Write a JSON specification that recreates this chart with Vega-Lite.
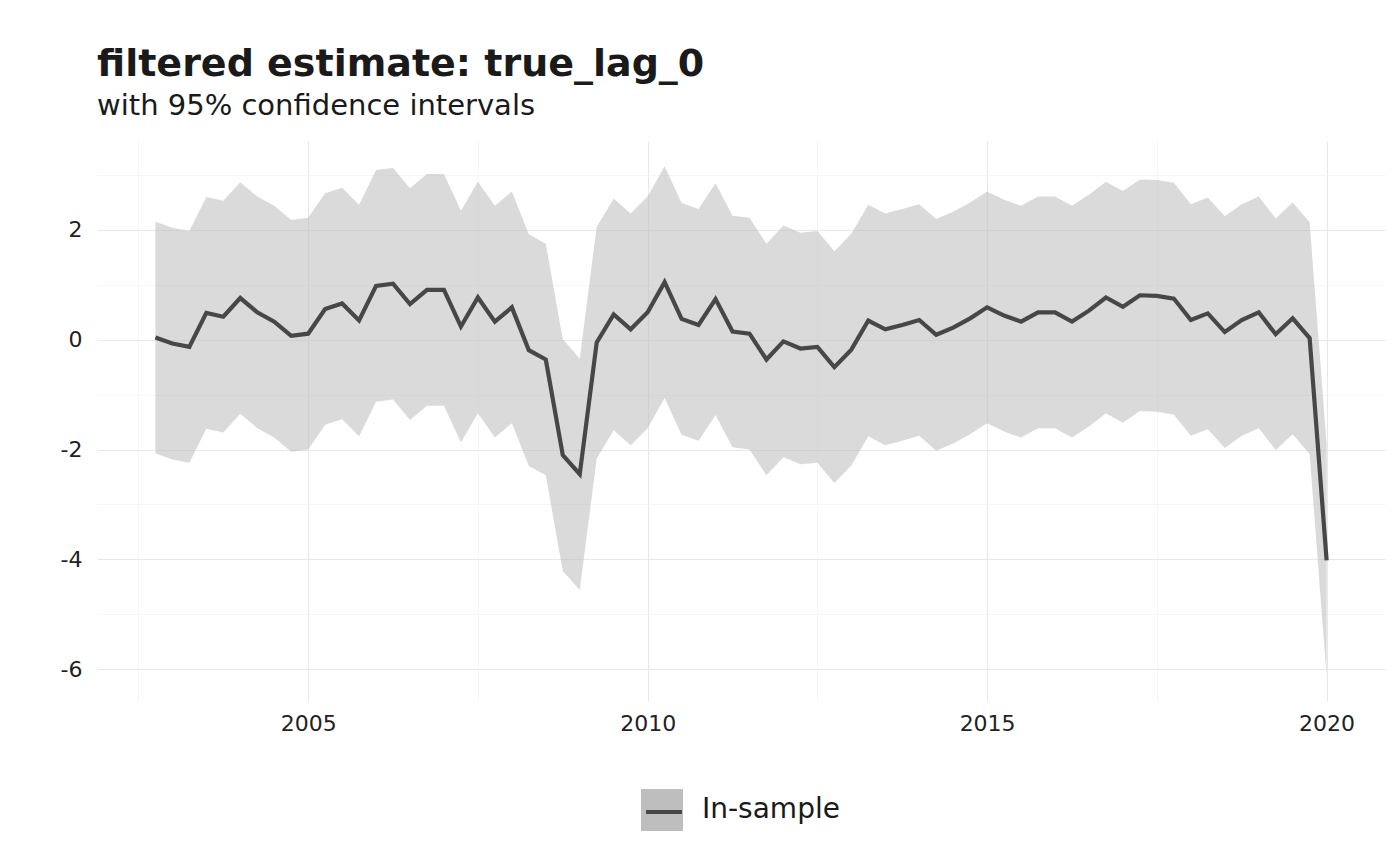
{
  "$schema": "https://vega.github.io/schema/vega-lite/v6.json",
  "width": 1288,
  "height": 560,
  "autosize": {"type": "none"},
  "padding": {"left": 97, "top": 141, "right": 15, "bottom": 164},
  "background": "white",
  "title": {
    "text": "filtered estimate: true_lag_0",
    "subtitle": "with 95% confidence intervals",
    "anchor": "start",
    "frame": "group",
    "font": "DejaVu Sans",
    "fontSize": 38,
    "fontWeight": "bold",
    "color": "#1a1a1a",
    "subtitleFont": "DejaVu Sans",
    "subtitleFontSize": 29,
    "subtitleColor": "#1a1a1a",
    "subtitlePadding": 8,
    "offset": 20
  },
  "config": {
    "view": {"stroke": null},
    "axis": {
      "domain": false,
      "ticks": false,
      "labelFont": "DejaVu Sans",
      "labelFontSize": 22,
      "labelColor": "#222222"
    }
  },
  "data": {
    "values": [
      {"t": 2002.75, "m": 0.04, "lo": -2.07, "hi": 2.15, "series": "In-sample"},
      {"t": 2003.0, "m": -0.07, "lo": -2.18, "hi": 2.04, "series": "In-sample"},
      {"t": 2003.25, "m": -0.13, "lo": -2.24, "hi": 1.98, "series": "In-sample"},
      {"t": 2003.5, "m": 0.49, "lo": -1.62, "hi": 2.60, "series": "In-sample"},
      {"t": 2003.75, "m": 0.42, "lo": -1.69, "hi": 2.53, "series": "In-sample"},
      {"t": 2004.0, "m": 0.76, "lo": -1.35, "hi": 2.87, "series": "In-sample"},
      {"t": 2004.25, "m": 0.50, "lo": -1.61, "hi": 2.61, "series": "In-sample"},
      {"t": 2004.5, "m": 0.33, "lo": -1.78, "hi": 2.44, "series": "In-sample"},
      {"t": 2004.75, "m": 0.07, "lo": -2.04, "hi": 2.18, "series": "In-sample"},
      {"t": 2005.0, "m": 0.11, "lo": -2.00, "hi": 2.22, "series": "In-sample"},
      {"t": 2005.25, "m": 0.56, "lo": -1.55, "hi": 2.67, "series": "In-sample"},
      {"t": 2005.5, "m": 0.66, "lo": -1.45, "hi": 2.77, "series": "In-sample"},
      {"t": 2005.75, "m": 0.35, "lo": -1.76, "hi": 2.46, "series": "In-sample"},
      {"t": 2006.0, "m": 0.98, "lo": -1.13, "hi": 3.09, "series": "In-sample"},
      {"t": 2006.25, "m": 1.02, "lo": -1.09, "hi": 3.13, "series": "In-sample"},
      {"t": 2006.5, "m": 0.65, "lo": -1.46, "hi": 2.76, "series": "In-sample"},
      {"t": 2006.75, "m": 0.91, "lo": -1.20, "hi": 3.02, "series": "In-sample"},
      {"t": 2007.0, "m": 0.91, "lo": -1.20, "hi": 3.02, "series": "In-sample"},
      {"t": 2007.25, "m": 0.24, "lo": -1.87, "hi": 2.35, "series": "In-sample"},
      {"t": 2007.5, "m": 0.77, "lo": -1.34, "hi": 2.88, "series": "In-sample"},
      {"t": 2007.75, "m": 0.33, "lo": -1.78, "hi": 2.44, "series": "In-sample"},
      {"t": 2008.0, "m": 0.59, "lo": -1.52, "hi": 2.70, "series": "In-sample"},
      {"t": 2008.25, "m": -0.19, "lo": -2.30, "hi": 1.92, "series": "In-sample"},
      {"t": 2008.5, "m": -0.36, "lo": -2.47, "hi": 1.75, "series": "In-sample"},
      {"t": 2008.75, "m": -2.10, "lo": -4.21, "hi": 0.01, "series": "In-sample"},
      {"t": 2009.0, "m": -2.45, "lo": -4.56, "hi": -0.34, "series": "In-sample"},
      {"t": 2009.25, "m": -0.05, "lo": -2.16, "hi": 2.06, "series": "In-sample"},
      {"t": 2009.5, "m": 0.46, "lo": -1.65, "hi": 2.57, "series": "In-sample"},
      {"t": 2009.75, "m": 0.19, "lo": -1.92, "hi": 2.30, "series": "In-sample"},
      {"t": 2010.0, "m": 0.50, "lo": -1.61, "hi": 2.61, "series": "In-sample"},
      {"t": 2010.25, "m": 1.05, "lo": -1.06, "hi": 3.16, "series": "In-sample"},
      {"t": 2010.5, "m": 0.38, "lo": -1.73, "hi": 2.49, "series": "In-sample"},
      {"t": 2010.75, "m": 0.27, "lo": -1.84, "hi": 2.38, "series": "In-sample"},
      {"t": 2011.0, "m": 0.74, "lo": -1.37, "hi": 2.85, "series": "In-sample"},
      {"t": 2011.25, "m": 0.15, "lo": -1.96, "hi": 2.26, "series": "In-sample"},
      {"t": 2011.5, "m": 0.11, "lo": -2.00, "hi": 2.22, "series": "In-sample"},
      {"t": 2011.75, "m": -0.36, "lo": -2.47, "hi": 1.75, "series": "In-sample"},
      {"t": 2012.0, "m": -0.03, "lo": -2.14, "hi": 2.08, "series": "In-sample"},
      {"t": 2012.25, "m": -0.16, "lo": -2.27, "hi": 1.95, "series": "In-sample"},
      {"t": 2012.5, "m": -0.13, "lo": -2.24, "hi": 1.98, "series": "In-sample"},
      {"t": 2012.75, "m": -0.50, "lo": -2.61, "hi": 1.61, "series": "In-sample"},
      {"t": 2013.0, "m": -0.18, "lo": -2.29, "hi": 1.93, "series": "In-sample"},
      {"t": 2013.25, "m": 0.35, "lo": -1.76, "hi": 2.46, "series": "In-sample"},
      {"t": 2013.5, "m": 0.19, "lo": -1.92, "hi": 2.30, "series": "In-sample"},
      {"t": 2013.75, "m": 0.27, "lo": -1.84, "hi": 2.38, "series": "In-sample"},
      {"t": 2014.0, "m": 0.36, "lo": -1.75, "hi": 2.47, "series": "In-sample"},
      {"t": 2014.25, "m": 0.09, "lo": -2.02, "hi": 2.20, "series": "In-sample"},
      {"t": 2014.5, "m": 0.22, "lo": -1.89, "hi": 2.33, "series": "In-sample"},
      {"t": 2014.75, "m": 0.39, "lo": -1.72, "hi": 2.50, "series": "In-sample"},
      {"t": 2015.0, "m": 0.59, "lo": -1.52, "hi": 2.70, "series": "In-sample"},
      {"t": 2015.25, "m": 0.44, "lo": -1.67, "hi": 2.55, "series": "In-sample"},
      {"t": 2015.5, "m": 0.33, "lo": -1.78, "hi": 2.44, "series": "In-sample"},
      {"t": 2015.75, "m": 0.50, "lo": -1.61, "hi": 2.61, "series": "In-sample"},
      {"t": 2016.0, "m": 0.50, "lo": -1.61, "hi": 2.61, "series": "In-sample"},
      {"t": 2016.25, "m": 0.33, "lo": -1.78, "hi": 2.44, "series": "In-sample"},
      {"t": 2016.5, "m": 0.53, "lo": -1.58, "hi": 2.64, "series": "In-sample"},
      {"t": 2016.75, "m": 0.77, "lo": -1.34, "hi": 2.88, "series": "In-sample"},
      {"t": 2017.0, "m": 0.60, "lo": -1.51, "hi": 2.71, "series": "In-sample"},
      {"t": 2017.25, "m": 0.81, "lo": -1.30, "hi": 2.92, "series": "In-sample"},
      {"t": 2017.5, "m": 0.80, "lo": -1.31, "hi": 2.91, "series": "In-sample"},
      {"t": 2017.75, "m": 0.75, "lo": -1.36, "hi": 2.86, "series": "In-sample"},
      {"t": 2018.0, "m": 0.36, "lo": -1.75, "hi": 2.47, "series": "In-sample"},
      {"t": 2018.25, "m": 0.48, "lo": -1.63, "hi": 2.59, "series": "In-sample"},
      {"t": 2018.5, "m": 0.14, "lo": -1.97, "hi": 2.25, "series": "In-sample"},
      {"t": 2018.75, "m": 0.36, "lo": -1.75, "hi": 2.47, "series": "In-sample"},
      {"t": 2019.0, "m": 0.50, "lo": -1.61, "hi": 2.61, "series": "In-sample"},
      {"t": 2019.25, "m": 0.10, "lo": -2.01, "hi": 2.21, "series": "In-sample"},
      {"t": 2019.5, "m": 0.39, "lo": -1.72, "hi": 2.50, "series": "In-sample"},
      {"t": 2019.75, "m": 0.03, "lo": -2.08, "hi": 2.14, "series": "In-sample"},
      {"t": 2020.0, "m": -4.02, "lo": -6.13, "hi": -1.91, "series": "In-sample"}
    ]
  },
  "encoding": {
    "x": {
      "field": "t",
      "type": "quantitative",
      "title": null,
      "scale": {"domain": [2001.89, 2020.86], "zero": false, "nice": false},
      "axis": {
        "values": [2002.5, 2005, 2007.5, 2010, 2012.5, 2015, 2017.5, 2020],
        "labelExpr": "datum.value % 5 == 0 ? toString(datum.value) : ''",
        "labelPadding": 12,
        "gridColor": {"condition": {"test": "datum.value % 5 != 0", "value": "#f2f2f2"}, "value": "#e8e8e8"},
        "gridWidth": {"condition": {"test": "datum.value % 5 != 0", "value": 0.7}, "value": 1.1}
      }
    }
  },
  "layer": [
    {
      "mark": {"type": "area", "opacity": 0.57},
      "encoding": {
        "y": {
          "field": "lo",
          "type": "quantitative",
          "title": null,
          "scale": {"domain": [-6.58, 3.62], "zero": false, "nice": false},
          "axis": {
            "values": [-6, -5, -4, -3, -2, -1, 0, 1, 2, 3],
            "labelExpr": "datum.value % 2 == 0 ? toString(datum.value) : ''",
            "labelPadding": 15,
            "gridColor": {"condition": {"test": "datum.value % 2 != 0", "value": "#f2f2f2"}, "value": "#e8e8e8"},
            "gridWidth": {"condition": {"test": "datum.value % 2 != 0", "value": 0.7}, "value": 1.1}
          }
        },
        "y2": {"field": "hi"},
        "fill": {
          "datum": "In-sample",
          "scale": {"range": ["#bebebe"]},
          "legend": {
            "orient": "none",
            "legendX": 544,
            "legendY": 648,
            "title": null,
            "padding": 0,
            "symbolType": "square",
            "symbolSize": 1764,
            "symbolOpacity": 1,
            "symbolStrokeWidth": 0,
            "symbolStrokeColor": "transparent",
            "labelFont": "DejaVu Sans",
            "labelFontSize": 28,
            "labelColor": "#1a1a1a",
            "labelOffset": 19,
            "zindex": 1
          }
        }
      }
    },
    {
      "mark": {"type": "line", "strokeWidth": 4.2},
      "encoding": {
        "y": {
          "field": "m",
          "type": "quantitative",
          "title": null,
          "scale": {"domain": [-6.58, 3.62], "zero": false, "nice": false},
          "axis": {
            "values": [-6, -5, -4, -3, -2, -1, 0, 1, 2, 3],
            "labelExpr": "datum.value % 2 == 0 ? toString(datum.value) : ''",
            "labelPadding": 15,
            "gridColor": {"condition": {"test": "datum.value % 2 != 0", "value": "#f2f2f2"}, "value": "#e8e8e8"},
            "gridWidth": {"condition": {"test": "datum.value % 2 != 0", "value": 0.7}, "value": 1.1}
          }
        },
        "stroke": {
          "field": "series",
          "type": "nominal",
          "scale": {"range": ["#474747"]},
          "legend": {
            "orient": "none",
            "legendX": 547,
            "legendY": 651,
            "title": null,
            "padding": 0,
            "symbolType": "stroke",
            "symbolSize": 1296,
            "symbolStrokeWidth": 4,
            "labelExpr": "''",
            "labelFontSize": 10,
            "labelOffset": 0,
            "zindex": 2
          }
        }
      }
    }
  ]
}
